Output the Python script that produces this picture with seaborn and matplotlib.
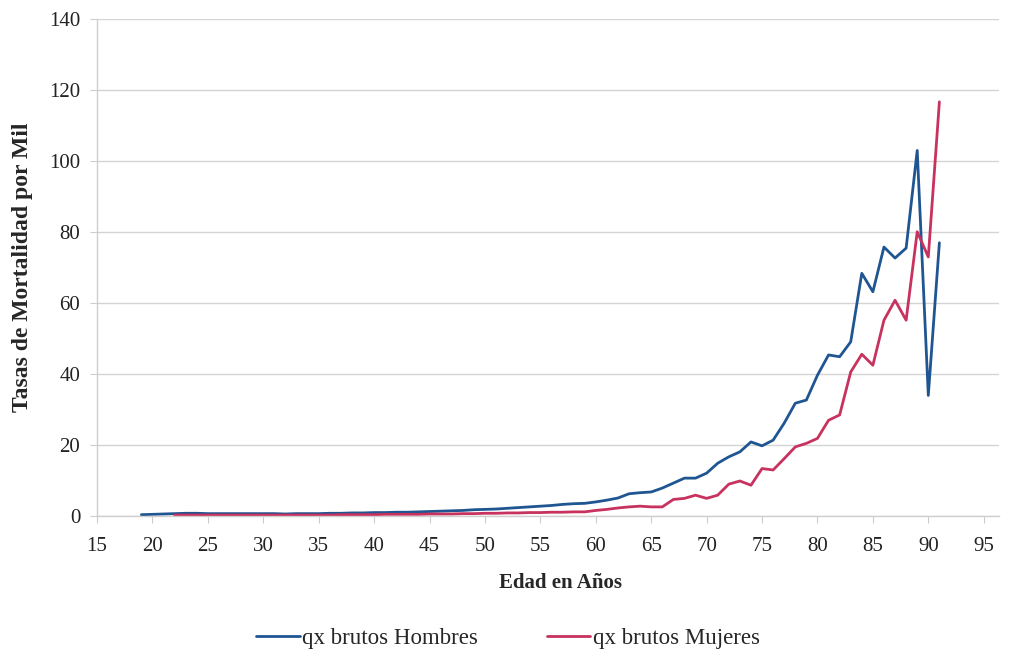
from matplotlib import pyplot as plt
import pandas as pd
import seaborn as sns
import numpy as np

# edades 19..91
ages = list(range(19, 92))

# qx brutos por mil, hombres
qx_hombres = [
    0.4, 0.5, 0.6, 0.7, 0.8, 0.8, 0.7, 0.7, 0.7, 0.7,   # 19-28
    0.7, 0.7, 0.7, 0.6, 0.7, 0.7, 0.7, 0.8, 0.8, 0.9,   # 29-38
    0.9, 1.0, 1.0, 1.1, 1.1, 1.2, 1.3, 1.4, 1.5, 1.6,   # 39-48
    1.8, 1.9, 2.0, 2.2, 2.4, 2.6, 2.8, 3.0, 3.3, 3.5,   # 49-58
    3.6, 4.0, 4.5, 5.1, 6.3, 6.6, 6.8, 7.9, 9.3, 10.7,  # 59-68
    10.7, 12.1, 14.9, 16.7, 18.1, 20.9, 19.8, 21.4, 26.2, 31.8,  # 69-78
    32.7, 39.7, 45.4, 44.9, 49.1, 68.4, 63.2, 75.8, 72.7, 75.5,  # 79-88
    103.0, 34.0, 77.0,                                   # 89-91
]

# qx brutos por mil, mujeres (sin dato 19-21)
qx_mujeres = [
    np.nan, np.nan, np.nan, 0.3, 0.3, 0.3, 0.3, 0.3, 0.3, 0.3,   # 19-28
    0.3, 0.3, 0.3, 0.3, 0.3, 0.3, 0.3, 0.3, 0.4, 0.4,   # 29-38
    0.4, 0.4, 0.5, 0.5, 0.5, 0.5, 0.6, 0.6, 0.6, 0.7,   # 39-48
    0.7, 0.8, 0.8, 0.9, 0.9, 1.0, 1.0, 1.1, 1.1, 1.2,   # 49-58
    1.2, 1.6, 1.9, 2.3, 2.6, 2.8, 2.6, 2.6, 4.7, 5.0,   # 59-68
    5.9, 5.0, 5.9, 9.0, 9.9, 8.7, 13.4, 13.0, 16.2, 19.5,  # 69-78
    20.5, 21.9, 27.0, 28.5, 40.6, 45.6, 42.5, 55.2, 60.8, 55.2,  # 79-88
    80.1, 73.0, 116.7,                                   # 89-91
]

series_names = ["qx brutos Hombres", "qx brutos Mujeres"]
series_colors = ["#1f5591", "#c8325e"]

x_ticks = list(range(15, 100, 5))
y_ticks = list(range(0, 160, 20))

df = pd.concat([
    pd.DataFrame({"edad": ages, "qx": qx_hombres, "serie": series_names[0]}),
    pd.DataFrame({"edad": ages, "qx": qx_mujeres, "serie": series_names[1]}),
]).dropna()

sns.set_theme(style="whitegrid")
plt.rcParams["font.family"] = ["Liberation Serif", "DejaVu Serif"]

fig = plt.figure(figsize=(10.16, 6.6), dpi=100)
ax = fig.add_axes([0.0955, 0.218, 0.888, 0.753])

sns.lineplot(data=df, x="edad", y="qx", hue="serie", hue_order=series_names,
             palette=series_colors, linewidth=2.0, ax=ax, legend=False)

ax.set_xlim(15, 96.4)
ax.set_ylim(0, 140)
ax.set_xticks(x_ticks)
ax.set_yticks(y_ticks)
ax.tick_params(labelsize=15, colors="#222222", length=5, width=0.8,
               direction="out", left=True, bottom=True)
ax.tick_params(axis="both", color="#cccccc")
ax.tick_params(axis="x", pad=10)
ax.tick_params(axis="y", pad=7)

ax.grid(axis="x", visible=False)
ax.grid(axis="y", color="#d4d4d4", linewidth=1.0)
for side in ["top", "right"]:
    ax.spines[side].set_visible(False)
for side in ["left", "bottom"]:
    ax.spines[side].set_color("#cfcfcf")
    ax.spines[side].set_linewidth(1.0)

ax.set_xlabel("Edad en Años", fontsize=15, fontweight="bold")
ax.xaxis.set_label_coords(0.514, -0.115)
ax.set_ylabel("Tasas de Mortalidad por Mil", fontsize=17, fontweight="bold")
ax.yaxis.set_label_coords(-0.071, 0.50)

# leyenda abajo, centrada
handles = [plt.Line2D([], [], color=c, linewidth=2.0) for c in series_colors]
fig.legend(handles, series_names, loc="center", bbox_to_anchor=(0.50, 0.033),
           ncol=2, frameon=False, fontsize=16.5, handlelength=1.9,
           handletextpad=0.1, columnspacing=3.0)

fig.savefig("out.png", dpi=100)
plt.close(fig)
